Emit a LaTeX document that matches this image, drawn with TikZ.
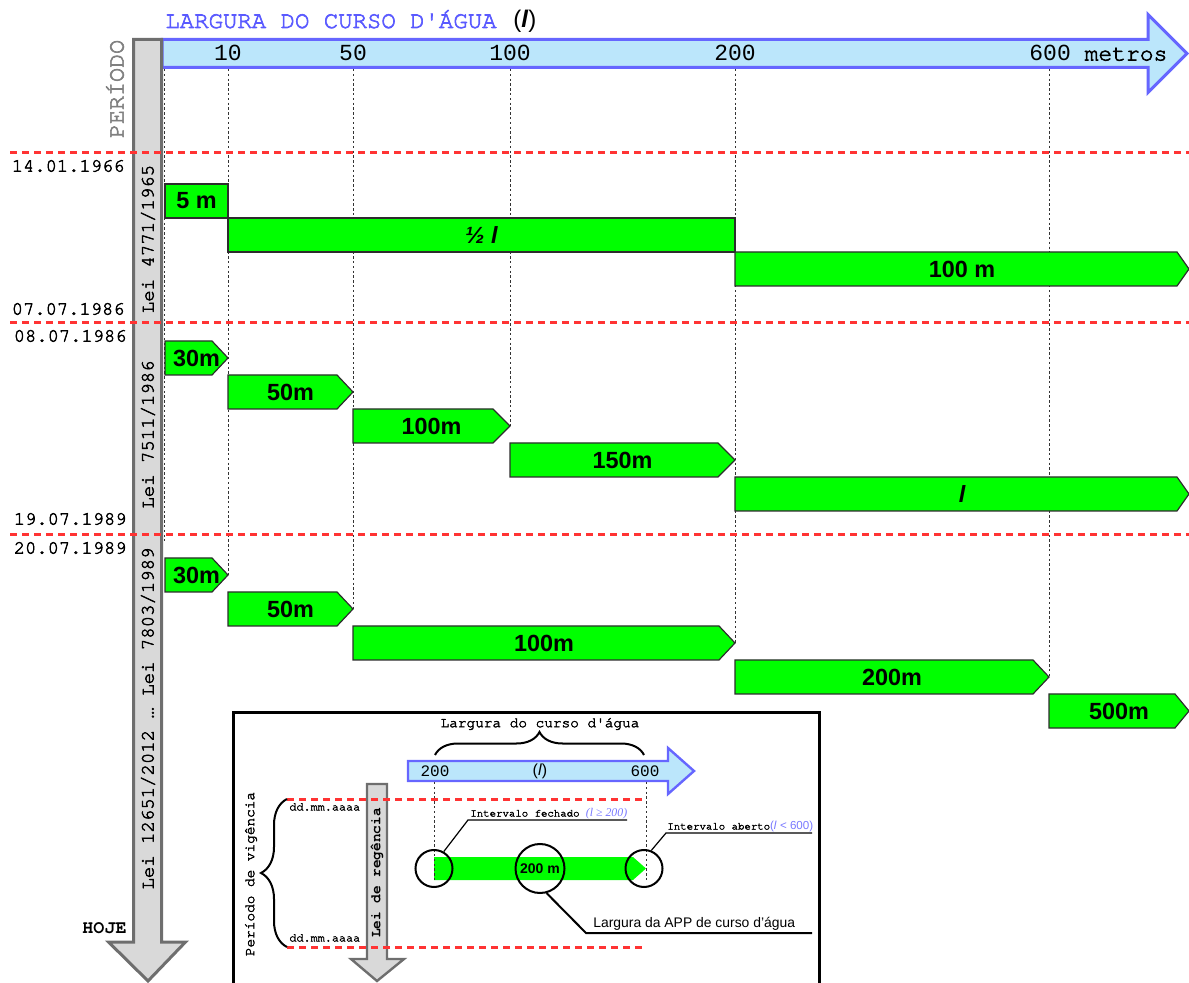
\documentclass[tikz,border=0pt]{standalone}
\usepackage{fontspec}
\setmainfont{Liberation Sans}
\newfontfamily\monof{TeX Gyre Cursor}[FakeBold=2.6]
\newfontfamily\monobf{TeX Gyre Cursor Bold}
\newfontfamily\digitf{Liberation Mono}
\newfontfamily\seriff{Liberation Serif}
\usetikzlibrary{decorations.pathreplacing}

\definecolor{axisblue}{RGB}{102,102,255}
\definecolor{axisfill}{RGB}{187,230,251}
\definecolor{titleblue}{RGB}{90,90,255}
\definecolor{notehue}{RGB}{120,120,255}
\definecolor{timefill}{RGB}{217,217,217}
\definecolor{timeline}{RGB}{110,110,110}
\definecolor{periodgray}{RGB}{128,128,128}
\definecolor{appgreen}{RGB}{0,255,0}
\definecolor{barline}{RGB}{45,45,45}
\definecolor{limitred}{RGB}{255,51,51}

\newcommand\fsz[1]{\fontsize{#1}{#1}\selectfont}

% green band: name, left x, head start x, tip x, top y, label
\newcommand\appbar[6]{%
  \path[greenbar] ({#2},{#5}) -- ({#3},{#5}) -- ({#4},{#5+17}) -- ({#3},{#5+34}) -- ({#2},{#5+34}) -- cycle;
  \node[barlabel] (#1) at ({(#2+#4)/2},{#5+17}) {#6};}

\begin{document}
\begin{tikzpicture}[x=0.5pt,y=-0.5pt,
  axisarrow/.style={draw=axisblue, fill=axisfill, line width=1.5pt, line join=miter},
  timearrow/.style={draw=timeline, fill=timefill, line width=1.5pt, line join=miter},
  greenbar/.style={fill=appgreen, draw=barline, line width=0.6pt, line join=miter},
  barlabel/.style={font=\fsz{11.7}\bfseries, inner sep=0},
  guide/.style={draw=black!80, line width=0.5pt, dash pattern=on 1.2pt off 1.2pt},
  limit/.style={draw=limitred, line width=1.5pt, dash pattern=on 3.5pt off 2.5pt},
  datelbl/.style={font=\monof\fsz{9.4}, inner sep=0, anchor=east},
  lawlbl/.style={font=\monof\fsz{9.5}, inner sep=0, rotate=90},
  axisnum/.style={font=\digitf\fsz{11.5}, inner sep=0},
  smallmono/.style={font=\monof\fsz{7.2}, inner sep=0},
  lens/.style={circle, draw, line width=1pt, inner sep=0},
  leader/.style={draw, line width=0.6pt},
  bracestyle/.style={draw, line width=1pt, decorate}]
\useasboundingbox (0,0) rectangle (1189,983);

% width axis
\path[axisarrow] (162,39.5) -- (1148,39.5) -- (1148,14.5) -- (1187,53.5) -- (1148,92.5) -- (1148,67.5) -- (162,67.5) -- cycle;
% time axis
\path[timearrow] (133.5,39.5) -- (161.5,39.5) -- (161.5,942) -- (185.5,942) -- (148,981) -- (108.5,942) -- (133.5,942) -- cycle;

% axis labels
\node[font=\monof\fsz{12}, text=titleblue, anchor=base west, inner sep=0] (title) at (165,28) {LARGURA DO CURSO D'ÁGUA};
\node[font=\fsz{12}, anchor=base west, inner sep=0] (titlel) at (513,28) {(\textbf{\textit{l}})};
\node[font=\monof\fsz{11.7}, text=periodgray, rotate=90, inner sep=0] (period) at (115,89) {PERÍODO};
\node[axisnum] (n10) at (228,53) {10};
\node[axisnum] (n50) at (353,53) {50};
\node[axisnum] (n100) at (510,53) {100};
\node[axisnum] (n200) at (735,53) {200};
\node[axisnum, anchor=west] (n600) at (1029,53) {600 {\monof metros}};

% guide lines from the width axis
\coordinate (g0t) at (164.5,69);   \coordinate (g0b) at (164.5,541);
\coordinate (g10t) at (228,69);    \coordinate (g10b) at (228,575);
\coordinate (g50t) at (353,69);    \coordinate (g50b) at (353,609);
\coordinate (g100t) at (510,69);   \coordinate (g100b) at (510,426);
\coordinate (g200t) at (735,69);   \coordinate (g200b) at (735,643);
\coordinate (g600t) at (1049,69);  \coordinate (g600b) at (1049,677);
\foreach \g in {g0,g10,g50,g100,g200,g600} \draw[guide] (\g t) -- (\g b);

% Lei 4771/1965
\appbar{a1}{165}{228}{228}{184}{5 m}
\appbar{a2}{228}{735}{735}{218}{\itshape ½ l}
\appbar{a3}{735}{1177}{1189}{252}{100 m}
% Lei 7511/1986
\appbar{b1}{165}{212}{228}{341}{30m}
\appbar{b2}{228}{337}{353}{375}{50m}
\appbar{b3}{353}{493}{510}{409}{100m}
\appbar{b4}{510}{718}{735}{443}{150m}
\appbar{b5}{735}{1177}{1189}{477}{\itshape l}
% Lei 7803/1989 ... Lei 12651/2012
\appbar{c1}{165}{212}{228}{558}{30m}
\appbar{c2}{228}{337}{353}{592}{50m}
\appbar{c3}{353}{719}{735}{626}{100m}
\appbar{c4}{735}{1033}{1049}{660}{200m}
\appbar{c5}{1049}{1175}{1189}{694}{500m}

% period limits
\coordinate (r1a) at (10,153); \coordinate (r1b) at (1189,153);
\coordinate (r2a) at (10,323); \coordinate (r2b) at (1189,323);
\coordinate (r3a) at (10,535); \coordinate (r3b) at (1189,535);
\draw[limit] (r1a) -- (r1b);
\draw[limit] (r2a) -- (r2b);
\draw[limit] (r3a) -- (r3b);

\node[datelbl] (d1) at (125,166) {14.01.1966};
\node[datelbl] (d2) at (125,309) {07.07.1986};
\node[datelbl] (d3) at (127,336) {08.07.1986};
\node[datelbl] (d4) at (127,519) {19.07.1989};
\node[datelbl] (d5) at (127,548) {20.07.1989};
\node[font=\monobf\fsz{9.2}, inner sep=0, anchor=east] (today) at (127,928) {HOJE};

\node[lawlbl] (law1) at (148,239) {Lei 4771/1965};
\node[lawlbl] (law2) at (148,434.5) {Lei 7511/1986};
\node[lawlbl] (law3) at (148,718.5) {Lei 12651/2012 … Lei 7803/1989};

% ---------- key ----------
\draw[line width=1.5pt] (233,713) rectangle (819,1000);
\node[smallmono] (keytitle) at (540,724) {Largura do curso d'água};
\draw[bracestyle, decoration={brace, amplitude=11.5pt}] (435,755) -- (644,755);
\path[axisarrow, line width=1.2pt] (408,761) -- (668,761) -- (668,748) -- (694,771) -- (668,794) -- (668,781) -- (408,781) -- cycle;
\node[font=\digitf\fsz{8}, inner sep=0] (k200) at (435,771) {200};
\node[font=\fsz{8}, inner sep=0] (kl) at (540,771) {(\textit{l})};
\node[font=\digitf\fsz{8}, inner sep=0] (k600) at (645,771) {600};

% rule of the key
\path[timearrow, line width=1.2pt] (367,784) -- (387,784) -- (387,959) -- (404,959) -- (377,981) -- (351,959) -- (367,959) -- cycle;
\node[font=\monobf\fsz{7.2}, rotate=90, inner sep=0] (klaw) at (377,873) {Lei de regência};

% green band of the key
\path[fill=appgreen] (434,857) -- (633,857) -- (646,868.5) -- (633,880) -- (434,880) -- cycle;
\node[font=\fsz{7}\bfseries, inner sep=0] (kband) at (540,868.5) {200 m};
\coordinate (kg1t) at (434,782); \coordinate (kg1b) at (434,880);
\coordinate (kg2t) at (646,782); \coordinate (kg2b) at (646,880);
\draw[guide] (kg1t) -- (kg1b);
\draw[guide] (kg2t) -- (kg2b);

% limits of the key
\coordinate (kr1a) at (287,799); \coordinate (kr1b) at (645,799);
\coordinate (kr2a) at (287,947); \coordinate (kr2b) at (645,947);
\draw[limit] (kr1a) -- (kr1b);
\draw[limit] (kr2a) -- (kr2b);
\node[font=\monof\fsz{5.9}, inner sep=0, anchor=west] (kd1) at (289,807) {dd.mm.aaaa};
\node[font=\monof\fsz{5.9}, inner sep=0, anchor=west] (kd2) at (289,938) {dd.mm.aaaa};
\draw[bracestyle, decoration={brace, amplitude=13pt}] (287,947) -- (287,799);
\node[smallmono, rotate=90] (kperiod) at (251,874) {Período de vigência};

% lenses and their notes
\node[lens, minimum size=18.5pt] (lc) at (434,868.5) {};
\node[lens, minimum size=24.5pt] (mc) at (540,868.5) {};
\node[lens, minimum size=18.5pt] (rc) at (644,868.5) {};

\coordinate (lcA) at (468,820); \coordinate (lcB) at (627,820);
\draw[leader] (lc.60) -- (lcA) -- (lcB);
\node[font=\monof\fsz{5.35}, inner sep=0, anchor=base west] (closed) at (470,816.5)
  {Intervalo fechado {\seriff\itshape\fsz{5.9}\color{notehue}(l ≥ 200)}};

\coordinate (rcA) at (666,833); \coordinate (rcB) at (812,833);
\draw[leader] (rc.68) -- (rcA) -- (rcB);
\node[font=\monof\fsz{5.35}, inner sep=0, anchor=base west] (open) at (667,829.5)
  {Intervalo aberto{\rmfamily\fsz{5.8}\color{notehue}(\textit{l} < 600)}};

\coordinate (mcA) at (586,933); \coordinate (mcB) at (812,933);
\draw[leader, line width=1pt] (mc.-75) -- (mcA) -- (mcB);
\node[font=\fsz{6.95}, inner sep=0, anchor=base west] (appw) at (593,927) {Largura da APP de curso d'água};
\end{tikzpicture}
\end{document}
